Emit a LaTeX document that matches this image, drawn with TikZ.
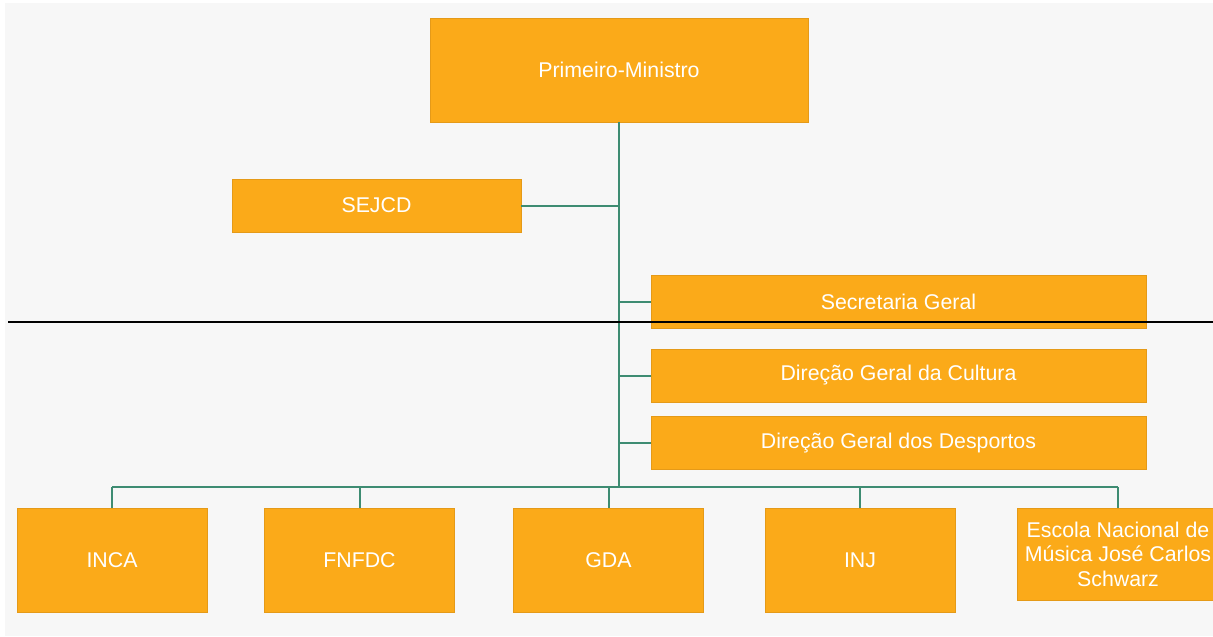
\documentclass[tikz,border=0pt]{standalone}
\usepackage{fontspec}
\setmainfont{Liberation Sans}
\definecolor{boxorange}{HTML}{FBAA19}
\definecolor{boxedge}{HTML}{E59A18}
\definecolor{linkgreen}{HTML}{3E8C72}
\definecolor{paper}{HTML}{F7F7F7}
\begin{document}
\begin{tikzpicture}
  [x=0.75pt,y=-0.75pt,every node/.style={rectangle,fill=boxorange,draw=boxedge,
   text=white,font=\fontsize{16}{18.4}\selectfont,inner sep=0pt,align=center}]
  \tikzstyle{wide} = [minimum width=371.25pt,minimum height=39.5pt]
  \tikzstyle{unit} = [minimum width=142.5pt,minimum height=78pt]
  \tikzstyle{link} = [draw=linkgreen,line width=1.5pt]
  \useasboundingbox (0,0) rectangle (1213,636);
  \fill[paper] (5,3) rectangle (1213,636);
  \node (pm) at (619,70) [minimum width=283.5pt,minimum height=78pt] {Primeiro-Ministro};
  \node (sejcd) at (376.5,205.5) [minimum width=216.75pt,minimum height=39.75pt] {SEJCD};
  \node[wide] (sg) at (898.5,302) {Secretaria Geral};
  \node[wide] (dgc) at (898.5,375.5) {Direção Geral da Cultura};
  \node[wide] (dgd) at (898.5,443) {Direção Geral dos Desportos};
  \node[unit] (inca) at (112,560) {INCA};
  \node[unit] (fnfdc) at (359.5,560) {FNFDC};
  \node[unit] (gda) at (608.5,560) {GDA};
  \node[unit] (inj) at (860,560) {INJ};
  \node (escola) at (1118,554) [minimum width=151.5pt,minimum height=69pt]
    {Escola Nacional de\\Música José Carlos\\Schwarz};
  \coordinate (hub) at (619,487);
  \draw[link] (pm.south) -- (hub);
  \draw[link] (sejcd.east) -- (sejcd.east -| hub);
  \foreach \dest in {sg,dgc,dgd}
   \draw[link] (\dest.west -| hub) -- (\dest.west);
  \draw[link] (inca.north |- hub) -- (escola.north |- hub);
  \foreach \dest in {inca,fnfdc,gda,inj,escola}
   \draw[link] (\dest.north |- hub) -- (\dest.north);
  \draw[line width=1.5pt] (8,322) -- (1213,322);
\end{tikzpicture}
\end{document}
